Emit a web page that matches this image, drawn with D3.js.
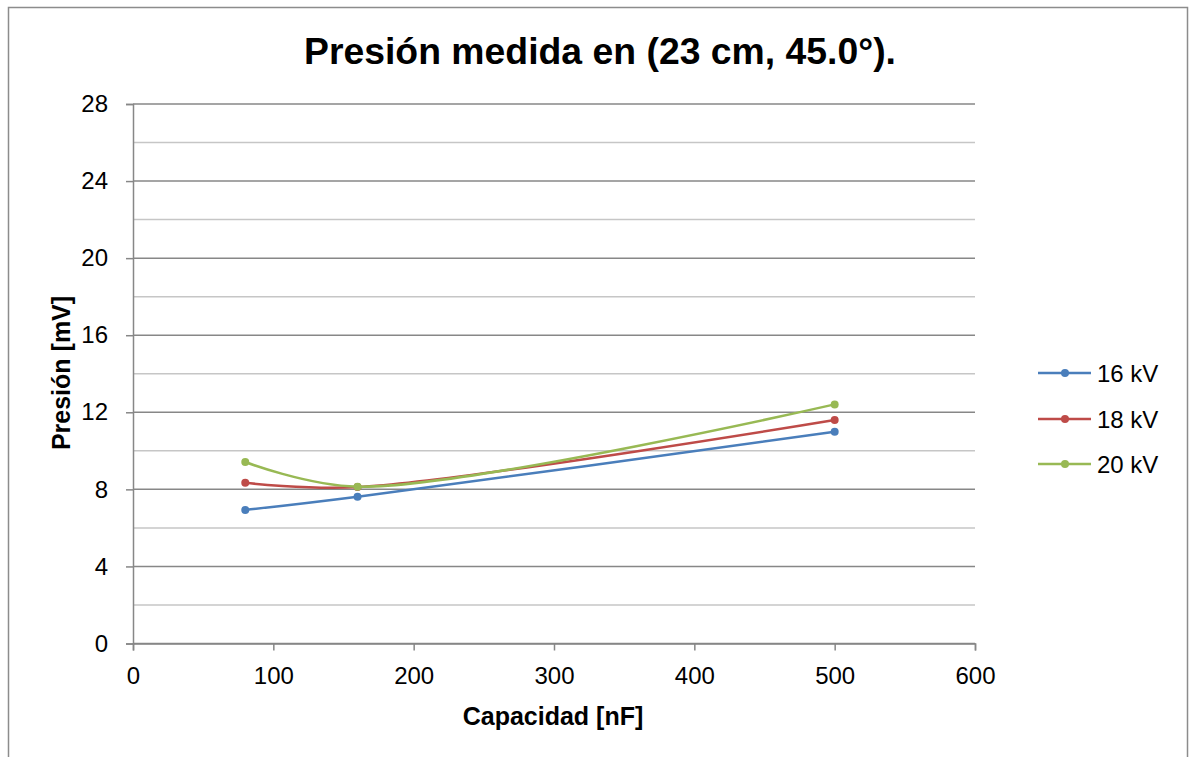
<!DOCTYPE html>
<html>
<head>
<meta charset="utf-8">
<script src="https://cdn.jsdelivr.net/npm/d3@7"></script>
<style>
  html, body { margin: 0; padding: 0; background: #fff; }
  svg { display: block; font-family: Arial, "Liberation Sans", sans-serif; }
</style>
</head>
<body>
<svg id="chart" width="1190" height="757"></svg>
<script>
// Capacitance (nF) on the x axis
const capacidad = [80, 160, 500];
// Measured pressure (mV) for each charging voltage
const serie16kV = [6.93, 7.62, 10.99];
const serie18kV = [8.34, 8.12, 11.60];
const serie20kV = [9.42, 8.14, 12.41];
const seriesNames = ["16 kV", "18 kV", "20 kV"];
const seriesColors = ["#4a7ebb", "#be4b48", "#98b954"];
const xTicks = [0, 100, 200, 300, 400, 500, 600];
const yTicks = [0, 4, 8, 12, 16, 20, 24, 28];
const yMinor = [2, 6, 10, 14, 18, 22, 26];

const series = [serie16kV, serie18kV, serie20kV].map((vals, i) => ({
  name: seriesNames[i],
  color: seriesColors[i],
  points: capacidad.map((c, j) => ({ x: c, y: vals[j] }))
}));

const svg = d3.select("#chart");

// Outer chart frame
svg.append("rect")
  .attr("x", 8.5).attr("y", 7.5)
  .attr("width", 1179).attr("height", 800)
  .attr("fill", "none").attr("stroke", "#8c8c8c").attr("stroke-width", 1.5);

const plot = { left: 133, right: 975, top: 104, bottom: 643.5 };

const x = d3.scaleLinear().domain([0, 600]).range([plot.left, plot.right]);
const y = d3.scaleLinear().domain([0, 28]).range([plot.bottom, plot.top]);

// Minor gridlines
svg.append("g").selectAll("line").data(yMinor).join("line")
  .attr("x1", plot.left).attr("x2", plot.right)
  .attr("y1", d => y(d)).attr("y2", d => y(d))
  .attr("stroke", "#c6c6c6").attr("stroke-width", 1.5);

// Major gridlines
svg.append("g").selectAll("line").data(yTicks).join("line")
  .attr("x1", plot.left).attr("x2", plot.right)
  .attr("y1", d => y(d)).attr("y2", d => y(d))
  .attr("stroke", "#878787").attr("stroke-width", 1.5);

// Y axis
const yAxis = svg.append("g")
  .attr("transform", `translate(${plot.left},0)`)
  .call(d3.axisLeft(y).tickValues(yTicks).tickSize(7).tickPadding(18).tickFormat(d3.format("d")));
yAxis.select(".domain").attr("stroke", "#878787").attr("stroke-width", 1.5);
yAxis.selectAll(".tick line").attr("stroke", "#878787").attr("stroke-width", 1.5);
yAxis.selectAll(".tick text").attr("font-size", 24).attr("fill", "#000")
  .attr("font-family", "Arial, 'Liberation Sans', sans-serif");

// X axis
const xAxis = svg.append("g")
  .attr("transform", `translate(0,${plot.bottom})`)
  .call(d3.axisBottom(x).tickValues(xTicks).tickSize(7).tickPadding(16).tickFormat(d3.format("d")));
xAxis.select(".domain").attr("stroke", "#878787").attr("stroke-width", 1.5);
xAxis.selectAll(".tick line").attr("stroke", "#878787").attr("stroke-width", 1.5);
xAxis.selectAll(".tick text").attr("font-size", 24).attr("fill", "#000")
  .attr("font-family", "Arial, 'Liberation Sans', sans-serif");

// Smoothed series lines with markers
const line = d3.line().x(d => x(d.x)).y(d => y(d.y)).curve(d3.curveCatmullRom.alpha(0.5));

const g = svg.append("g");
series.forEach(s => {
  g.append("path").datum(s.points)
    .attr("d", line)
    .attr("fill", "none").attr("stroke", s.color).attr("stroke-width", 2.5)
    .attr("stroke-linecap", "round");
  g.selectAll(null).data(s.points).join("circle")
    .attr("cx", d => x(d.x)).attr("cy", d => y(d.y)).attr("r", 4)
    .attr("fill", s.color);
});

// Title
svg.append("text")
  .attr("x", 600).attr("y", 64)
  .attr("text-anchor", "middle")
  .attr("font-size", 36).attr("font-weight", "bold")
  .attr("textLength", 592).attr("lengthAdjust", "spacingAndGlyphs")
  .text("Presión medida en (23 cm, 45.0°).");

// Axis titles
svg.append("text")
  .attr("transform", "translate(70,373) rotate(-90)")
  .attr("text-anchor", "middle")
  .attr("font-size", 25).attr("font-weight", "bold")
  .text("Presión [mV]");

svg.append("text")
  .attr("x", 553).attr("y", 725)
  .attr("text-anchor", "middle")
  .attr("font-size", 25).attr("font-weight", "bold")
  .text("Capacidad [nF]");

// Legend
const legendY = [373, 419, 464];
const legend = svg.append("g");
series.forEach((s, i) => {
  const ly = legendY[i];
  legend.append("line")
    .attr("x1", 1038).attr("x2", 1091).attr("y1", ly).attr("y2", ly)
    .attr("stroke", s.color).attr("stroke-width", 2.5);
  legend.append("circle")
    .attr("cx", 1065).attr("cy", ly).attr("r", 4).attr("fill", s.color);
  legend.append("text")
    .attr("x", 1097).attr("y", ly + 9)
    .attr("font-size", 24)
    .text(s.name);
});
</script>
</body>
</html>
